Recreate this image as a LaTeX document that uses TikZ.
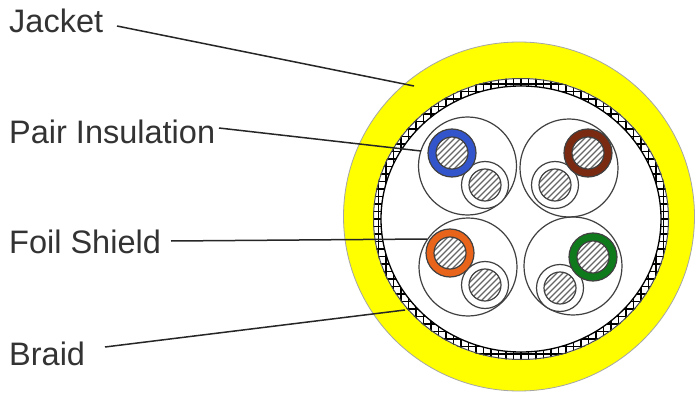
\documentclass[tikz,border=0pt]{standalone}
\usepackage{fontspec}
\setmainfont{Liberation Sans}
\definecolor{jacketyellow}{HTML}{FFFF00}
\definecolor{wblue}{HTML}{3355CC}
\definecolor{wbrown}{HTML}{7A2A10}
\definecolor{worange}{HTML}{E8641A}
\definecolor{wgreen}{HTML}{0F7A1C}
\tikzset{
  lab/.style={font=\fontsize{32.5}{34}\selectfont,text=black!80,inner sep=0pt,anchor=base west},
  leader/.style={line width=1.5pt,black!85},
  ring/.style={draw=black!75,line width=1.2pt},
}
\newcommand{\wirecore}[4]{%
  \fill[#3] (#1,#2) circle (#4);
  \draw[ring] (#1,#2) circle (#4);
  \begin{scope}
    \clip (#1,#2) circle (16);
    \fill[white] (#1,#2) circle (16);
    \foreach \d in {-30,-24,...,30}
      \draw[line width=1.2pt,black!60] ({#1+\d-20},{#2+20}) -- ({#1+\d+20},{#2-20});
  \end{scope}
  \draw[line width=1.2pt,black!75] (#1,#2) circle (16);
}
\begin{document}
\begin{tikzpicture}[x=1pt,y=-1pt]
\useasboundingbox (0,0) rectangle (696,393);
\fill[white] (0,0) rectangle (696,393);
% jacket
\draw[fill=jacketyellow,draw=black!35,line width=0.8pt] (519,216.5) ellipse [x radius=175.5,y radius=174.5];
\fill[white] (521,219) ellipse [x radius=148,y radius=141];
% braid: a square grid seen through the ring
\begin{scope}
  \clip (521,219) ellipse [x radius=148,y radius=141];
  \foreach \g in {-157.5,-150,...,157.5}{
    \draw[line width=1.3pt,black] (521+\g,60) -- (521+\g,380);
    \draw[line width=1.3pt,black] (360,219+\g) -- (680,219+\g);
  }
\end{scope}
\fill[white] (521,219) ellipse [x radius=140,y radius=133];
\draw[black!70,line width=1pt] (521,219) ellipse [x radius=147.5,y radius=140.5];
\draw[black,line width=1.3pt] (521,219) ellipse [x radius=140,y radius=133];
% pair circles
\draw[ring] (467.5,166) circle (49);
\draw[ring] (569,168) circle (49);
\draw[ring] (468,267) circle (49);
\draw[ring] (573,266) circle (49);
\wirecore{485}{185}{white}{23.5}
\wirecore{452}{153}{wblue}{24}
\wirecore{555}{185}{white}{23.5}
\wirecore{588}{153}{wbrown}{24}
\wirecore{485}{285}{white}{23.5}
\wirecore{450}{253}{worange}{24}
\wirecore{560}{288}{white}{23.5}
\wirecore{593}{257}{wgreen}{24}
% labels
\node[lab] (jacket) at (9,33) {Jacket};
\node[lab] (pair) at (9,143) {Pair Insulation};
\node[lab] (foil) at (9,253) {Foil Shield};
\node[lab] (braid) at (9,365) {Braid};
\coordinate (jacketEnd) at (414,86);
\coordinate (pairEnd) at (421,151);
\coordinate (foilEnd) at (427,239);
\coordinate (braidEnd) at (405,310);
\draw[leader] (117,26) -- (jacketEnd);
\draw[leader] (219,128) -- (pairEnd);
\draw[leader] (171,241) -- (foilEnd);
\draw[leader] (105,347) -- (braidEnd);
\end{tikzpicture}
\end{document}
